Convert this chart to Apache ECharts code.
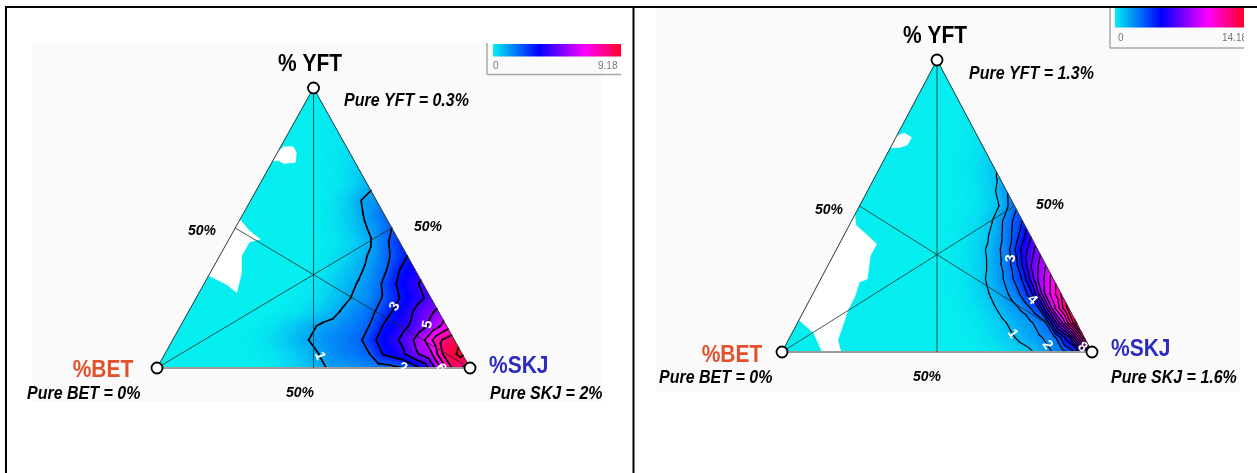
<!DOCTYPE html>
<html>
<head>
<meta charset="utf-8">
<title>Species composition of sets</title>
<script src="https://cdn.jsdelivr.net/npm/echarts@6.0.0/dist/echarts.min.js"></script>
<style>
html, body { margin: 0; padding: 0; background: #ffffff; }
#chart { width: 1257px; height: 473px; }
</style>
</head>
<body>
<div id="chart"></div>
<script>
// Vertex names of both ternary diagrams
const vertexNames = ['%BET', '%SKJ', '% YFT'];
// Share of single-species sets in each panel (%)
const pureBET = [0, 0];
const pureSKJ = [2, 1.6];
const pureYFT = [0.3, 1.3];
// Label of the mid-point ticks on each side
const midTick = '50%';
// Ends of the colour scale in each panel
const scaleMin = [0, 0];
const scaleMax = [9.18, 14.18];

// Density of sets on a ternary grid with 20 steps per side.
// Row 0 is the YFT apex, row 20 the BET-SKJ base; inside a row the
// values run from the BET-YFT side to the SKJ-YFT side.
const densityLeft = [
  [0],
  [0, 0],
  [0, 0, 0.06],
  [0, 0, 0.03, 0.12],
  [0, 0, 0, 0.06, 0.2],
  [0, 0, 0, 0.03, 0.12, 0.28],
  [0, 0, 0, 0, 0.06, 0.2, 0.5],
  [0, 0, 0, 0, 0.03, 0.12, 0.38, 0.85],
  [0, 0, 0, 0, 0.03, 0.12, 0.38, 0.98, 1.3],
  [0, 0, 0, 0, 0, 0.06, 0.25, 0.6, 1.2, 1.8],
  [0, 0, 0, 0, 0, 0.03, 0.12, 0.35, 0.78, 1.3, 2.0],
  [0, 0, 0, 0, 0, 0, 0.06, 0.16, 0.38, 0.85, 1.7, 2.7],
  [0, 0, 0, 0, 0, 0, 0.03, 0.12, 0.35, 0.78, 1.3, 2.1, 3.0],
  [0, 0, 0, 0, 0, 0, 0.03, 0.12, 0.35, 0.72, 1.15, 1.8, 3.0, 3.5],
  [0, 0, 0, 0, 0, 0, 0.03, 0.12, 0.35, 0.72, 1.1, 1.6, 2.8, 3.5, 4.2],
  [0, 0, 0, 0, 0, 0, 0.03, 0.12, 0.28, 0.65, 1.05, 1.4, 2.1, 3.0, 3.6, 4.3],
  [0, 0, 0, 0, 0, 0, 0.06, 0.16, 0.38, 0.72, 1.15, 1.5, 2.05, 3.0, 3.7, 4.6, 5.2],
  [0, 0, 0, 0, 0, 0.06, 0.2, 0.45, 0.78, 1.1, 1.3, 1.6, 1.95, 3.1, 3.6, 4.3, 5.2, 6.5],
  [0, 0, 0, 0, 0, 0.06, 0.2, 0.45, 0.78, 1.1, 1.35, 1.6, 1.9, 3.0, 3.6, 4.5, 5.8, 7.8, 8.8],
  [0, 0, 0, 0, 0, 0, 0.06, 0.16, 0.38, 0.72, 1.05, 1.4, 1.6, 1.9, 3.1, 3.6, 4.8, 5.8, 8.7, 9.18],
  [0, 0, 0, 0, 0, 0, 0, 0.06, 0.2, 0.45, 0.78, 1.05, 1.2, 1.35, 1.5, 1.7, 2.1, 3.2, 5.6, 8.4, 7.5]
];
const densityRight = [
  [0],
  [0, 0],
  [0, 0, 0],
  [0, 0, 0, 0.06],
  [0, 0, 0, 0.03, 0.12],
  [0, 0, 0, 0, 0.06, 0.2],
  [0, 0, 0, 0, 0.03, 0.12, 0.38],
  [0, 0, 0, 0, 0, 0.1, 0.28, 0.78],
  [0, 0, 0, 0, 0, 0.06, 0.16, 0.5, 1.1],
  [0, 0, 0, 0, 0, 0, 0.08, 0.25, 0.65, 1.9],
  [0, 0, 0, 0, 0, 0, 0.03, 0.12, 0.38, 1.0, 2.7],
  [0, 0, 0, 0, 0, 0, 0.03, 0.1, 0.35, 0.9, 2.4, 4.0],
  [0, 0, 0, 0, 0, 0, 0, 0.08, 0.25, 0.65, 1.7, 3.3, 5.8],
  [0, 0, 0, 0, 0, 0, 0, 0.05, 0.16, 0.5, 1.3, 2.5, 5.3, 7.5],
  [0, 0, 0, 0, 0, 0, 0, 0, 0.1, 0.28, 0.8, 1.8, 3.4, 6.8, 9.0],
  [0, 0, 0, 0, 0, 0, 0, 0, 0.05, 0.16, 0.5, 1.3, 2.2, 4.1, 8.0, 10.5],
  [0, 0, 0, 0, 0, 0, 0, 0, 0, 0.08, 0.25, 0.72, 1.5, 2.35, 4.4, 9.2, 12.0],
  [0, 0, 0, 0, 0, 0, 0, 0, 0, 0, 0.1, 0.28, 0.78, 1.5, 2.15, 3.7, 9.5, 13.5],
  [0, 0, 0, 0, 0, 0, 0, 0, 0, 0, 0, 0.1, 0.28, 0.72, 1.3, 1.8, 2.9, 8.6, 14.18],
  [0, 0, 0, 0, 0, 0, 0, 0, 0, 0, 0, 0.04, 0.12, 0.35, 0.72, 1.25, 1.8, 2.5, 5.8, 12.5],
  [0, 0, 0, 0, 0, 0, 0, 0, 0, 0, 0, 0, 0, 0.1, 0.25, 0.5, 0.85, 1.7, 2.4, 4.2, 9.0]
];

// Compositions [BET, SKJ, YFT] (%) outlining areas without any sets
const gapsLeft = [
  [[23, 0, 77], [20, 1, 79], [17, 4, 79], [17, 6, 77], [19, 7.5, 73.5], [23, 4, 73], [24, 2, 74], [26, 0, 74]],
  [[47, 0, 53], [46, 5, 49], [44, 10, 46], [48, 7, 45], [50, 7, 43], [53, 7, 40], [56, 10, 34], [61, 12, 27], [63, 7, 30], [67, 0, 33]]
];
const gapsRight = [
  [[26, 0, 74], [23, 2, 75], [21.5, 5, 73.5], [24, 5, 71], [27, 3, 70], [30, 0, 70]],
  [[53, 0, 47], [54.5, 2, 43.5], [52, 9, 39], [51, 12, 37], [55, 12, 33], [60, 15, 25], [63, 13, 24], [67, 14, 19],
   [71, 14, 15], [80, 16, 4], [81, 19, 0], [87, 13, 0], [86.5, 7, 6.5], [89, 0, 11]]
];

// Contour labels: [level, BET, SKJ, YFT] close to where each label sits
const contourTagsLeft = [[1, 47, 49, 4], [2, 17, 82, 1], [3, 13, 65, 22], [5, 4, 80, 15], [6, 7.5, 91.5, 1]];
const contourTagsRight = [[1, 23, 71, 6], [2, 12, 85, 3], [3, 9, 59, 32], [4, 12, 72, 17], [8, 3, 96, 1]];

// ---------------------------------------------------------------------
const STEPS = 20;
const FONT = '"Liberation Sans", Arial, Helvetica, sans-serif';
const ramp = [[0, [4, 238, 240]], [0.36, [0, 0, 255]], [0.72, [255, 0, 255]], [1, [255, 0, 40]]];

// Ternary composition -> plane position (BET at the origin, SKJ at x = 1, YFT at y = 1)
function toXY(bet, skj, yft) {
  const s = bet + skj + yft;
  return [(skj + yft / 2) / s, yft / s];
}
function nodeXY(r, c) {
  return toXY(r - c, c, STEPS - r);
}

function rampColor(t) {
  t = Math.max(0, Math.min(1, t));
  for (let i = 1; i < ramp.length; i++) {
    if (t <= ramp[i][0]) {
      const a = ramp[i - 1], b = ramp[i];
      const u = (t - a[0]) / (b[0] - a[0]);
      const c = a[1].map((v, k) => Math.round(v + u * (b[1][k] - v)));
      return 'rgb(' + c.join(',') + ')';
    }
  }
  return 'rgb(' + ramp[ramp.length - 1][1].join(',') + ')';
}

// Triangular cells of the grid: [x0,y0,x1,y1,x2,y2,v0,v1,v2]
function buildCells(grid) {
  const cells = [];
  const push = (nodes) => {
    const item = [];
    nodes.forEach(n => { const p = nodeXY(n[0], n[1]); item.push(p[0], p[1]); });
    nodes.forEach(n => item.push(grid[n[0]][n[1]]));
    cells.push(item);
  };
  for (let r = 0; r < STEPS; r++) {
    for (let c = 0; c <= r; c++) {
      push([[r, c], [r + 1, c], [r + 1, c + 1]]);
      if (c < r) push([[r, c], [r, c + 1], [r + 1, c + 1]]);
    }
  }
  return cells;
}

// Iso-lines at every whole unit, traced cell by cell
function buildContours(cells, vmax) {
  const segs = [];
  for (let L = 1; L <= Math.floor(vmax); L++) {
    cells.forEach(cl => {
      const P = [[cl[0], cl[1]], [cl[2], cl[3]], [cl[4], cl[5]]];
      const V = [cl[6], cl[7], cl[8]];
      const pts = [];
      for (let e = 0; e < 3; e++) {
        const i = e, j = (e + 1) % 3;
        if ((V[i] >= L) !== (V[j] >= L)) {
          const t = (L - V[i]) / (V[j] - V[i]);
          pts.push([P[i][0] + t * (P[j][0] - P[i][0]), P[i][1] + t * (P[j][1] - P[i][1])]);
        }
      }
      if (pts.length === 2) segs.push([pts[0][0], pts[0][1], pts[1][0], pts[1][1], L]);
    });
  }
  return segs;
}

// Linear shading of one cell through the colour ramp
function cellFill(pts, vals, vmin, vmax) {
  const t = vals.map(v => Math.max(0, Math.min(1, (v - vmin) / (vmax - vmin))));
  const tmin = Math.min(t[0], t[1], t[2]), tmax = Math.max(t[0], t[1], t[2]);
  if (tmax - tmin < 1e-4) return rampColor(tmin);
  const p0 = pts[0];
  const x1 = pts[1][0] - p0[0], y1 = pts[1][1] - p0[1];
  const x2 = pts[2][0] - p0[0], y2 = pts[2][1] - p0[1];
  const f1 = t[1] - t[0], f2 = t[2] - t[0];
  const det = x1 * y2 - x2 * y1;
  const a = (f1 * y2 - f2 * y1) / det, b = (x1 * f2 - x2 * f1) / det;
  const g2 = a * a + b * b;
  const A = pts[t.indexOf(tmin)];
  const s = (tmax - tmin) / g2;
  const stops = [{ offset: 0, color: rampColor(tmin) }];
  ramp.forEach(st => {
    if (st[0] > tmin && st[0] < tmax) stops.push({ offset: (st[0] - tmin) / (tmax - tmin), color: rampColor(st[0]) });
  });
  stops.push({ offset: 1, color: rampColor(tmax) });
  return new echarts.graphic.LinearGradient(A[0], A[1], A[0] + a * s, A[1] + b * s, stops, true);
}

// Frame, base and median lines of a triangle: [x1,y1,x2,y2,kind]
function frameSegments() {
  const B = toXY(100, 0, 0), S = toXY(0, 100, 0), Y = toXY(0, 0, 100);
  const mBS = toXY(50, 50, 0), mSY = toXY(0, 50, 50), mBY = toXY(50, 0, 50);
  return [
    [B[0], B[1], Y[0], Y[1], 0],
    [Y[0], Y[1], S[0], S[1], 0],
    [B[0], B[1], S[0], S[1], 1],
    [Y[0], Y[1], mBS[0], mBS[1], 2],
    [B[0], B[1], mSY[0], mSY[1], 2],
    [S[0], S[1], mBY[0], mBY[1], 2]
  ];
}

function panelSeries(k, grid, gaps, tags, lineW) {
  const vmin = scaleMin[k], vmax = scaleMax[k];
  const cells = buildCells(grid);
  const segs = buildContours(cells, vmax);
  const axes = { xAxisIndex: k, yAxisIndex: k, coordinateSystem: 'cartesian2d', silent: true, animation: false };
  const gapData = gaps.map((g, i) => { const p = toXY(g[0][0], g[0][1], g[0][2]); return [p[0], p[1], i]; });
  const tagData = tags.map(t => { const p = toXY(t[1], t[2], t[3]); return [p[0], p[1], t[0]]; });
  const vertexData = [toXY(100, 0, 0), toXY(0, 100, 0), toXY(0, 0, 100)];
  return [
    Object.assign({
      type: 'custom', z: 1, data: cells,
      renderItem: (params, api) => {
        const pts = [0, 2, 4].map(i => api.coord([api.value(i), api.value(i + 1)]));
        const fill = cellFill(pts, [api.value(6), api.value(7), api.value(8)], vmin, vmax);
        return { type: 'polygon', shape: { points: pts }, style: { fill: fill, stroke: fill, lineWidth: 0.8, lineJoin: 'round' } };
      }
    }, axes),
    Object.assign({
      type: 'custom', z: 2, data: gapData,
      renderItem: (params, api) => {
        const g = gaps[api.value(2)];
        const pts = g.map(c => api.coord(toXY(c[0], c[1], c[2])));
        return { type: 'polygon', shape: { points: pts }, style: { fill: '#ffffff', stroke: '#ffffff', lineWidth: 0.6 } };
      }
    }, axes),
    Object.assign({
      type: 'custom', z: 3, data: segs,
      renderItem: (params, api) => {
        const p = api.coord([api.value(0), api.value(1)]);
        const q = api.coord([api.value(2), api.value(3)]);
        return { type: 'line', shape: { x1: p[0], y1: p[1], x2: q[0], y2: q[1] },
                 style: { stroke: '#000000', lineWidth: lineW, lineCap: 'round' } };
      }
    }, axes),
    Object.assign({
      type: 'custom', z: 4, data: frameSegments(),
      renderItem: (params, api) => {
        const p = api.coord([api.value(0), api.value(1)]);
        const q = api.coord([api.value(2), api.value(3)]);
        const kind = api.value(4);
        const style = kind === 0 ? { stroke: '#3a3a3a', lineWidth: 1 }
                    : kind === 1 ? { stroke: '#9c9c9c', lineWidth: 2 }
                    : { stroke: 'rgba(25,45,45,0.8)', lineWidth: 1 };
        return { type: 'line', shape: { x1: p[0], y1: p[1], x2: q[0], y2: q[1] }, style: style };
      }
    }, axes),
    Object.assign({
      type: 'custom', z: 5, data: tagData,
      renderItem: (params, api) => {
        const anchor = api.coord([api.value(0), api.value(1)]);
        const lv = api.value(2);
        let best = null, bd = Infinity;
        segs.forEach(s => {
          if (s[4] !== lv) return;
          const p = api.coord([s[0], s[1]]), q = api.coord([s[2], s[3]]);
          const dx = q[0] - p[0], dy = q[1] - p[1];
          const l2 = dx * dx + dy * dy || 1;
          let u = ((anchor[0] - p[0]) * dx + (anchor[1] - p[1]) * dy) / l2;
          u = Math.max(0, Math.min(1, u));
          const x = p[0] + u * dx, y = p[1] + u * dy;
          const d = (x - anchor[0]) * (x - anchor[0]) + (y - anchor[1]) * (y - anchor[1]);
          if (d < bd) { bd = d; best = { x: x, y: y, dx: dx, dy: dy }; }
        });
        if (!best) best = { x: anchor[0], y: anchor[1], dx: 1, dy: 0 };
        let ang = Math.atan2(best.dy, best.dx);
        if (ang > Math.PI / 2) ang -= Math.PI;
        if (ang < -Math.PI / 2) ang += Math.PI;
        return { type: 'text', x: best.x, y: best.y, rotation: -ang,
                 style: { text: String(lv), fill: '#ffffff', font: 'bold 14px ' + FONT, align: 'center', verticalAlign: 'middle' } };
      }
    }, axes),
    {
      type: 'scatter', xAxisIndex: k, yAxisIndex: k, z: 6, silent: true, animation: false,
      data: vertexData, symbol: 'circle', symbolSize: 11,
      itemStyle: { color: '#ffffff', borderColor: '#000000', borderWidth: 1.8, opacity: 1 }
    }
  ];
}

// Text, colour bar and frame of each panel
function txt(x, y, text, font, fill, align) {
  return { type: 'text', x: x, y: y, scaleY: 1.1, z: 10, silent: true,
           style: { text: text, font: font, fill: fill || '#000000', align: align || 'left', verticalAlign: 'middle' } };
}
function fmtPct(v) { return String(v) + '%'; }

const titleFont = 'bold 21px ' + FONT;
const pureFont = 'italic bold 16px ' + FONT;
const tickFont = 'italic bold 14px ' + FONT;
const barFont = '10px ' + FONT;
const red = '#e4502c', blue = '#2b2bbf';

function barGradient() {
  return new echarts.graphic.LinearGradient(0, 0, 1, 0, ramp.map(s => ({ offset: s[0], color: rampColor(s[0]) })));
}

const graphics = [
  // pale plot panels
  { type: 'rect', z: 0, silent: true, shape: { x: 32, y: 43, width: 571, height: 359 }, style: { fill: '#fafafa' } },
  { type: 'rect', z: 0, silent: true, shape: { x: 656, y: 8, width: 584, height: 384 }, style: { fill: '#fafafa' } },

  // left panel
  txt(310, 65, vertexNames[2], titleFont, '#000', 'center'),
  txt(344, 101, 'Pure YFT = ' + fmtPct(pureYFT[0]), pureFont),
  txt(103, 371, vertexNames[0], titleFont, red, 'center'),
  txt(27, 394, 'Pure BET = ' + fmtPct(pureBET[0]), pureFont),
  txt(300, 393, midTick, tickFont, '#000', 'center'),
  txt(489, 367, vertexNames[1], titleFont, blue),
  txt(490, 394, 'Pure SKJ = ' + fmtPct(pureSKJ[0]), pureFont),
  txt(202, 231, midTick, tickFont, '#000', 'center'),
  txt(428, 227, midTick, tickFont, '#000', 'center'),
  { type: 'rect', z: 10, silent: true, shape: { x: 493, y: 44, width: 128, height: 12.5 }, style: { fill: barGradient() } },
  { type: 'line', z: 10, silent: true, shape: { x1: 487, y1: 43, x2: 487, y2: 74.5 }, style: { stroke: '#a8a8a8', lineWidth: 1.5 } },
  { type: 'line', z: 10, silent: true, shape: { x1: 487, y1: 74.5, x2: 621, y2: 74.5 }, style: { stroke: '#a8a8a8', lineWidth: 1.5 } },
  { type: 'text', z: 10, silent: true, x: 493, y: 66.5, style: { text: String(scaleMin[0]), font: barFont, fill: '#777', verticalAlign: 'middle' } },
  { type: 'text', z: 10, silent: true, x: 598, y: 66.5, style: { text: String(scaleMax[0]), font: barFont, fill: '#777', verticalAlign: 'middle' } },
  { type: 'rect', z: 11, silent: true, shape: { x: 621, y: 38, width: 11, height: 45 }, style: { fill: '#ffffff' } },

  // right panel
  txt(935, 37, vertexNames[2], titleFont, '#000', 'center'),
  txt(969, 74, 'Pure YFT = ' + fmtPct(pureYFT[1]), pureFont),
  txt(732, 356, vertexNames[0], titleFont, red, 'center'),
  txt(659, 378, 'Pure BET = ' + fmtPct(pureBET[1]), pureFont),
  txt(927, 377, midTick, tickFont, '#000', 'center'),
  txt(1111, 350, vertexNames[1], titleFont, blue),
  txt(1111, 378, 'Pure SKJ = ' + fmtPct(pureSKJ[1]), pureFont),
  txt(829, 210, midTick, tickFont, '#000', 'center'),
  txt(1050, 205, midTick, tickFont, '#000', 'center'),
  { type: 'rect', z: 10, silent: true, shape: { x: 1115, y: 8, width: 129, height: 19.5 }, style: { fill: barGradient() } },
  { type: 'line', z: 10, silent: true, shape: { x1: 1110, y1: 8, x2: 1110, y2: 48 }, style: { stroke: '#a8a8a8', lineWidth: 1.5 } },
  { type: 'line', z: 10, silent: true, shape: { x1: 1110, y1: 48, x2: 1244, y2: 48 }, style: { stroke: '#a8a8a8', lineWidth: 1.5 } },
  { type: 'text', z: 10, silent: true, x: 1118, y: 38.5, style: { text: String(scaleMin[1]), font: barFont, fill: '#777', verticalAlign: 'middle' } },
  { type: 'text', z: 10, silent: true, x: 1222, y: 38.5, style: { text: String(scaleMax[1]), font: barFont, fill: '#777', verticalAlign: 'middle' } },
  { type: 'rect', z: 11, silent: true, shape: { x: 1244, y: 8, width: 13, height: 45 }, style: { fill: '#ffffff' } },

  // table rules
  { type: 'rect', z: 12, silent: true, shape: { x: 5, y: 6, width: 1252, height: 2 }, style: { fill: '#000000' } },
  { type: 'rect', z: 12, silent: true, shape: { x: 5, y: 6, width: 2, height: 467 }, style: { fill: '#000000' } },
  { type: 'rect', z: 12, silent: true, shape: { x: 632.5, y: 6, width: 2, height: 467 }, style: { fill: '#000000' } }
];

const axisOff = { type: 'value', min: 0, max: 1, show: false };
const chart = echarts.init(document.getElementById('chart'), null, { renderer: 'canvas', width: 1257, height: 473 });
chart.setOption({
  animation: false,
  backgroundColor: '#ffffff',
  grid: [
    { left: 157, top: 88, width: 313, height: 280 },
    { left: 782, top: 60, width: 310, height: 292 }
  ],
  xAxis: [Object.assign({ gridIndex: 0 }, axisOff), Object.assign({ gridIndex: 1 }, axisOff)],
  yAxis: [Object.assign({ gridIndex: 0 }, axisOff), Object.assign({ gridIndex: 1 }, axisOff)],
  series: panelSeries(0, densityLeft, gapsLeft, contourTagsLeft, 1.7)
    .concat(panelSeries(1, densityRight, gapsRight, contourTagsRight, 1.2)),
  graphic: graphics
});
</script>
</body>
</html>
